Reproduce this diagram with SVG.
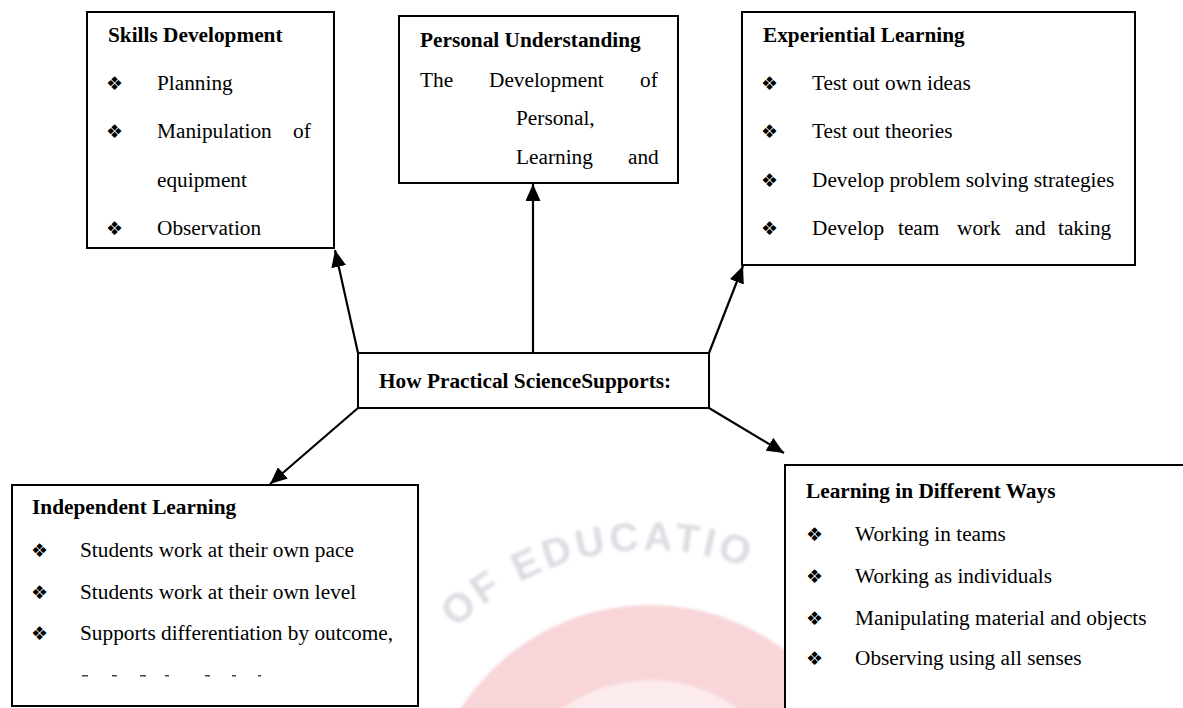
<svg xmlns="http://www.w3.org/2000/svg" width="1183" height="708" viewBox="0 0 1183 708">
  <style>
    .box { fill: #ffffff; stroke: #000000; stroke-width: 2; }
    .t { font-family: "Liberation Serif", "Times New Roman", serif; font-size: 21.3px; fill: #000000; }
    .h { font-weight: bold; }
    .b { font-family: "DejaVu Sans", sans-serif; font-size: 19px; fill: #000000; }
    .conn { stroke: #000000; stroke-width: 2.2; fill: none; marker-end: url(#arrow); }
    .wm { font-family: "Liberation Sans", Arial, sans-serif; font-size: 40px; font-weight: bold; fill: #cdcdd8; letter-spacing: 4px; }
  </style>
  <defs>
    <marker id="arrow" viewBox="0 0 17 15" refX="17" refY="7.5" markerWidth="17" markerHeight="15" markerUnits="userSpaceOnUse" orient="auto">
      <path d="M0,0 L17,7.5 L0,15 z" fill="#000000"/>
    </marker>
    <path id="sealArc" d="M 370,830 A 280 280 0 0 1 930,830"/>
    <filter id="soft" x="-10%" y="-10%" width="120%" height="120%">
      <feGaussianBlur stdDeviation="1.8"/>
    </filter>
  </defs>

  <rect x="0" y="0" width="1183" height="708" fill="#ffffff"/>

  <!-- faint seal in the background -->
  <g id="seal" filter="url(#soft)" opacity="0.7">
    <circle cx="650" cy="830" r="225" fill="#f6c4ca"/>
    <circle cx="650" cy="830" r="150" fill="#fbe3e6"/>
    <text class="wm"><textPath href="#sealArc" startOffset="225">OF EDUCATIO</textPath></text>
  </g>

  <!-- connectors from the centre box -->
  <g id="connectors">
    <line class="conn" x1="358" y1="353" x2="335" y2="250"/>
    <line class="conn" x1="533" y1="353" x2="533" y2="184"/>
    <line class="conn" x1="709" y1="353" x2="743" y2="266"/>
    <line class="conn" x1="358" y1="408" x2="270" y2="484"/>
    <line class="conn" x1="709" y1="408" x2="784" y2="453"/>
  </g>

  <g id="skills">
    <rect class="box" x="87" y="12" width="247" height="236"/>
    <text class="t h" x="108" y="42">Skills Development</text>
    <text class="b" x="106" y="90">❖</text>
    <text class="t" x="157" y="90">Planning</text>
    <text class="b" x="106" y="138">❖</text>
    <text class="t" y="138"><tspan x="157">Manipulation</tspan><tspan x="293">of</tspan></text>
    <text class="t" x="157" y="187">equipment</text>
    <text class="b" x="106" y="235">❖</text>
    <text class="t" x="157" y="235">Observation</text>
  </g>

  <g id="personal">
    <rect class="box" x="399" y="16" width="279" height="167"/>
    <text class="t h" x="420" y="47">Personal Understanding</text>
    <text class="t" y="87"><tspan x="420">The</tspan><tspan x="489">Development</tspan><tspan x="640">of</tspan></text>
    <text class="t" x="516" y="125">Personal,</text>
    <text class="t" y="164"><tspan x="516">Learning</tspan><tspan x="628">and</tspan></text>
  </g>

  <g id="experiential">
    <rect class="box" x="742" y="12" width="393" height="253"/>
    <text class="t h" x="763" y="42">Experiential Learning</text>
    <text class="b" x="761" y="90">❖</text>
    <text class="t" x="812" y="90">Test out own ideas</text>
    <text class="b" x="761" y="138">❖</text>
    <text class="t" x="812" y="138">Test out theories</text>
    <text class="b" x="761" y="187">❖</text>
    <text class="t" x="812" y="187">Develop problem solving strategies</text>
    <text class="b" x="761" y="235">❖</text>
    <text class="t" y="235"><tspan x="812">Develop</tspan><tspan x="898">team</tspan><tspan x="957">work</tspan><tspan x="1015">and</tspan><tspan x="1058">taking</tspan></text>
  </g>

  <g id="centre">
    <rect class="box" x="358" y="353" width="351" height="55"/>
    <text class="t h" x="379" y="388">How Practical ScienceSupports:</text>
  </g>

  <g id="independent">
    <rect class="box" x="12" y="485" width="406" height="221"/>
    <text class="t h" x="32" y="514">Independent Learning</text>
    <text class="b" x="31" y="557">❖</text>
    <text class="t" x="80" y="557">Students work at their own pace</text>
    <text class="b" x="31" y="599">❖</text>
    <text class="t" x="80" y="599">Students work at their own level</text>
    <text class="b" x="31" y="640">❖</text>
    <text class="t" x="80" y="640">Supports differentiation by outcome,</text>
    <!-- clipped tops of the next line -->
    <g fill="#444444">
      <rect x="82" y="675" width="6" height="1.5"/>
      <rect x="112" y="675" width="5" height="1.5"/>
      <rect x="140" y="675" width="6" height="1.5"/>
      <rect x="165" y="675" width="4" height="1.5"/>
      <rect x="205" y="675" width="5" height="1.5"/>
      <rect x="232" y="675" width="4" height="1.5"/>
      <rect x="258" y="675" width="3" height="1.5"/>
    </g>
  </g>

  <g id="ways">
    <rect class="box" x="785" y="465" width="410" height="260"/>
    <text class="t h" x="806" y="498">Learning in Different Ways</text>
    <text class="b" x="806" y="541">❖</text>
    <text class="t" x="855" y="541">Working in teams</text>
    <text class="b" x="806" y="583">❖</text>
    <text class="t" x="855" y="583">Working as individuals</text>
    <text class="b" x="806" y="625">❖</text>
    <text class="t" x="855" y="625">Manipulating material and objects</text>
    <text class="b" x="806" y="665">❖</text>
    <text class="t" x="855" y="665">Observing using all senses</text>
  </g>
</svg>
